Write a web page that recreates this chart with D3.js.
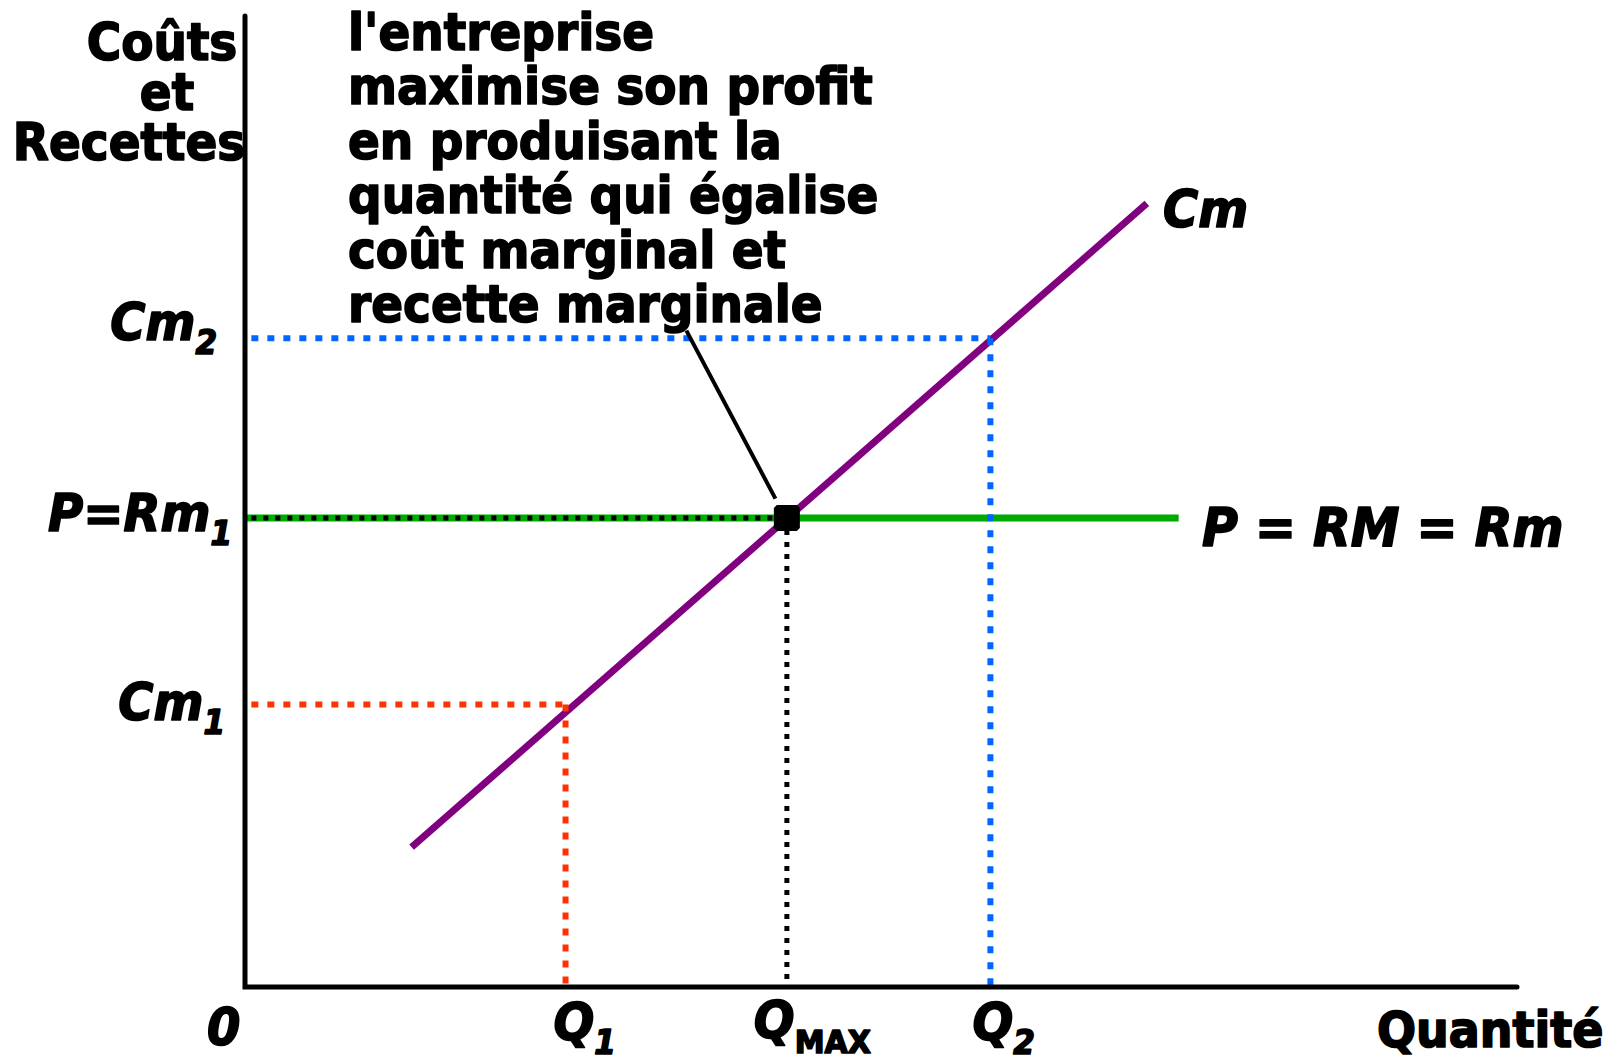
<!DOCTYPE html>
<html>
<head>
<meta charset="utf-8">
<script src="https://cdn.jsdelivr.net/npm/d3@7"></script>
<style>
  body { margin: 0; background: #fff; }
  svg { display: block; }
  text { font-family: "DejaVu Sans", Verdana, sans-serif; font-weight: bold; fill: #000;
         stroke: #000; stroke-width: 1.6px; stroke-linejoin: round; }
</style>
</head>
<body>
<svg id="chart" width="1624" height="1062"></svg>
<script>
// valeurs (unités arbitraires 0..100)
const cmCurve = [[13.1, 14.4], [70.9, 80.7]];   // courbe Cm (q, coût)
const priceLevel = 48.3;                        // P = RM = Rm
const priceEnd = 73.4;
const quantities = ["Q1", "QMAX", "Q2"];
const qValues = [25.2, 42.6, 58.6];
const cmValues = [29.1, 48.3, 66.8];
const guideColors = ["#ff3300", "#000000", "#0066ff"];
const leader = [[34.7, 67.6], [41.7, 50.3]];

const noteLines = [
  "l'entreprise",
  "maximise son profit",
  "en produisant la",
  "quantité qui égalise",
  "coût marginal et",
  "recette marginale"
];
const yTitle = ["Coûts", "et", "Recettes"];

const x = d3.scaleLinear([0, 100], [245, 1517]);
const y = d3.scaleLinear([0, 100], [987, 16]);
const SY = 1.08; // le texte d'origine est un peu étiré en hauteur

const svg = d3.select("#chart");
const line = d3.line().x(d => x(d[0])).y(d => y(d[1]));

// droite prix (verte)
svg.append("path")
  .attr("d", line([[0, priceLevel], [priceEnd, priceLevel]]))
  .attr("stroke", "#00aa00").attr("stroke-width", 7).attr("fill", "none");

// courbe Cm
svg.append("path")
  .attr("d", line(cmCurve))
  .attr("stroke", "#800080").attr("stroke-width", 7).attr("fill", "none");

// pointillés
quantities.forEach((name, i) => {
  const q = qValues[i], c = cmValues[i];
  const black = name === "QMAX";
  const g = svg.append("g")
    .attr("stroke", guideColors[i])
    .attr("stroke-width", black ? 5 : 6)
    .attr("stroke-dasharray", black ? "5,7" : "7,9")
    .attr("fill", "none");
  g.append("path").attr("d", line([[0.5, c], [q, c]]));
  g.append("path").attr("d", line([[q, c], [q, 0]]));
});

// point d'équilibre
svg.append("rect")
  .attr("x", x(qValues[1]) - 10).attr("y", y(priceLevel) - 10)
  .attr("width", 20).attr("height", 20)
  .attr("fill", "#000").attr("stroke", "#000")
  .attr("stroke-width", 6).attr("stroke-linejoin", "bevel");

// trait de l'annotation
svg.append("path")
  .attr("d", line(leader))
  .attr("stroke", "#000").attr("stroke-width", 4);

// axes
const axes = svg.append("g").attr("stroke", "#000").attr("stroke-width", 5)
  .attr("stroke-linecap", "round").attr("fill", "none");
axes.append("path").attr("d", line([[0, 100], [0, 0], [100, 0]]));

// texte
function label(px, py, parts, opts = {}) {
  const t = svg.append("text")
    .attr("transform", `translate(${px},${py}) scale(1,${SY})`)
    .attr("font-size", opts.size || 48)
    .attr("font-style", opts.italic ? "italic" : "normal")
    .attr("text-anchor", opts.anchor || "start");
  parts.forEach(p => {
    const s = t.append("tspan").text(p.t);
    if (p.sub) s.attr("font-size", p.size || 31).attr("dy", p.dy || 13)
      .attr("font-style", p.upright ? "normal" : null);
  });
  return t;
}

noteLines.forEach((s, i) => label(348, 50 + i * 54.4, [{t: s}], {size: 47}));

const yTitleX = [162, 167, 129];
yTitle.forEach((s, i) => label(yTitleX[i], 60 + i * 50, [{t: s}], {size: 47, anchor: "middle"}));

label(217, 340, [{t: "Cm"}, {t: "2", sub: true}], {italic: true, anchor: "end"});
label(232, 531, [{t: "P=Rm"}, {t: "1", sub: true}], {italic: true, anchor: "end"});
label(225, 720, [{t: "Cm"}, {t: "1", sub: true}], {italic: true, anchor: "end"});
label(1163, 227, [{t: "Cm"}], {italic: true});
label(1202, 546, [{t: "P = RM = Rm"}], {italic: true, size: 49});

label(207, 1045, [{t: "0"}], {italic: true});
label(x(qValues[0]) - 12, 1040, [{t: "Q"}, {t: "1", sub: true}], {italic: true});
label(x(qValues[1]) - 33, 1038, [{t: "Q"}, {t: "MAX", sub: true, upright: true, size: 30, dy: 14}], {italic: true});
label(x(qValues[2]) - 18, 1040, [{t: "Q"}, {t: "2", sub: true}], {italic: true});
label(1377, 1047, [{t: "Quantité"}], {size: 46});
</script>
</body>
</html>
